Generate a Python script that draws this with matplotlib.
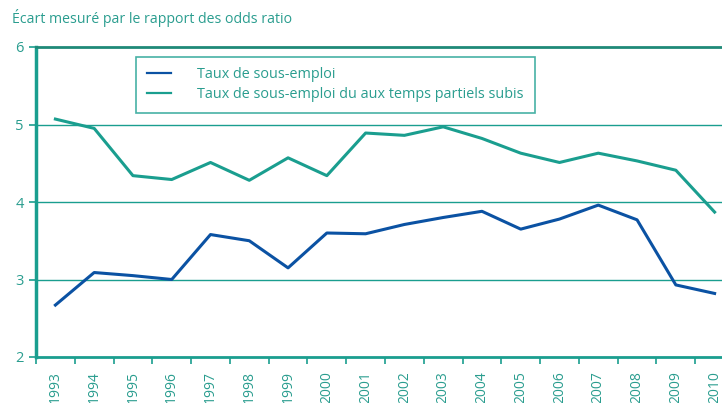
import matplotlib
matplotlib.use('Agg')
import matplotlib.pyplot as plt
from matplotlib.ticker import FixedLocator

years = [str(y) for y in range(1993, 2011)]
sous_emploi = [2.67, 3.09, 3.05, 3.00, 3.58, 3.50, 3.15, 3.60, 3.59, 3.71,
               3.80, 3.88, 3.65, 3.78, 3.96, 3.77, 2.93, 2.82]
temps_partiels = [5.07, 4.95, 4.34, 4.29, 4.51, 4.28, 4.57, 4.34, 4.89, 4.86,
                  4.97, 4.82, 4.63, 4.51, 4.63, 4.53, 4.41, 3.87]

teal = '#1a9e8f'
dark_teal = '#1f8a78'
blue = '#0b52a3'
txt = '#2a9d8f'

plt.rcParams['font.family'] = ['Open Sans', 'DejaVu Sans']

fig = plt.figure(figsize=(7.22, 4.03), dpi=100)
ax = fig.add_axes([36 / 722, 46 / 403, 698 / 722, 310 / 403])

x = list(range(len(years)))
ax.plot(x, sous_emploi, color=blue, lw=2.2, label='Taux de sous-emploi')
ax.plot(x, temps_partiels, color=teal, lw=2.2,
        label='Taux de sous-emploi du aux temps partiels subis')

ax.set_xlim(-0.5, len(years) - 0.5)
ax.set_ylim(2, 6)

for v in [3, 4, 5]:
    ax.axhline(v, color=teal, lw=1, zorder=0)

ax.spines['right'].set_visible(False)
ax.spines['left'].set_color(teal)
ax.spines['left'].set_linewidth(2.5)
ax.spines['bottom'].set_color(teal)
ax.spines['bottom'].set_linewidth(2)
ax.spines['top'].set_color(dark_teal)
ax.spines['top'].set_linewidth(2)

ax.set_yticks([2, 3, 4, 5, 6])
ax.tick_params(axis='y', colors=teal, labelcolor=txt, labelsize=10.5,
               length=5, width=1.2, pad=4)

ax.xaxis.set_major_locator(FixedLocator([i - 0.5 for i in x]))
ax.xaxis.set_major_formatter(plt.NullFormatter())
ax.xaxis.set_minor_locator(FixedLocator(x))
ax.set_xticklabels(years, minor=True, rotation=90)
ax.tick_params(axis='x', which='major', colors=teal, length=5, width=1.2)
ax.tick_params(axis='x', which='minor', length=0, labelcolor=txt,
               labelsize=10, pad=10)

leg = ax.legend(loc='upper left', bbox_to_anchor=(100 / 698, 0.969),
                frameon=True, fancybox=False, fontsize=10.4, handlelength=1.7,
                handletextpad=1.8, borderpad=0.75, labelspacing=0.3,
                borderaxespad=0)
leg.get_frame().set_edgecolor(teal)
leg.get_frame().set_linewidth(1.2)
for t in leg.get_texts():
    t.set_color(txt)
for h in leg.get_lines():
    h.set_linewidth(1.6)

fig.text(12 / 722, 1 - 18 / 403, 'Écart mesuré par le rapport des odds ratio',
         color=txt, fontsize=10.2, va='center', ha='left')

fig.savefig('out.png', dpi=100)
